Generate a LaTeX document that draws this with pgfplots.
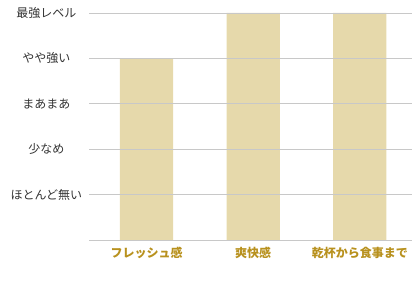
\documentclass[border=0pt]{standalone}
\usepackage{fontspec}
\usepackage{pgfplots}
\pgfplotsset{compat=1.18}
\newfontfamily\jp{Noto Sans CJK JP}
\definecolor{barfill}{HTML}{E6D9AB}
\definecolor{gridgray}{HTML}{C8C8C8}
\definecolor{ylab}{HTML}{333333}
\definecolor{xlab}{HTML}{B8911E}
\begin{document}
\begin{tikzpicture}
\begin{axis}[
  name=ax,
  at={(0pt,0pt)}, anchor=south west,
  scale only axis,
  width=242.25pt, height=170.25pt,
  xmin=-0.54, xmax=2.49,
  ymin=0, ymax=5,
  axis line style={draw=none},
  major tick length=0pt,
  xtick={0,1,2},
  xticklabels={フレッシュ感,爽快感,乾杯から食事まで},
  ytick={0,1,2,3,4,5},
  yticklabels={,ほとんど無い,少なめ,まあまあ,やや強い,最強レベル},
  ymajorgrids,
  grid style={gridgray, line width=0.6pt},
  axis on top,
  yticklabel style={font=\jp\fontsize{9}{10}\selectfont, text=ylab,
    anchor=center, xshift=-32pt},
  xticklabel style={font=\jp\bfseries\fontsize{9}{10}\selectfont, text=xlab, yshift=-2pt},
  ybar, bar width=0.5,
]
\addplot[fill=barfill, draw=none] coordinates {(0,4) (1,5) (2,5)};
\end{axis}
% white margin round the chart
\path (-66.75pt,-34.5pt) rectangle ++(315pt,214.5pt);
\end{tikzpicture}
\end{document}
